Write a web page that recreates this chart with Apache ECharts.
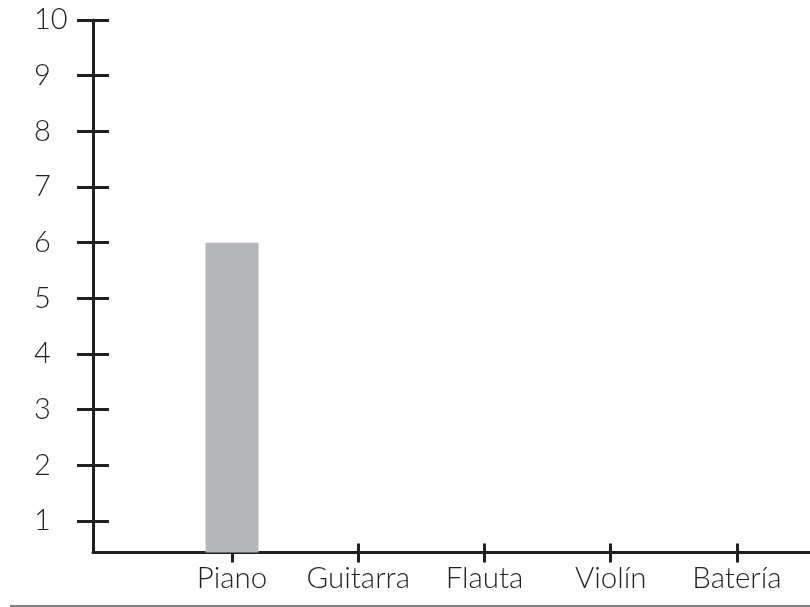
<!DOCTYPE html>
<html>
<head>
<meta charset="utf-8">
<script src="https://cdn.jsdelivr.net/npm/echarts@6/dist/echarts.min.js"></script>
<style>
html,body{margin:0;padding:0;background:#fff;}
#chart{width:810px;height:607px;}
</style>
</head>
<body>
<div id="chart"></div>
<script>
const categories = ['Piano', 'Guitarra', 'Flauta', 'Violín', 'Batería'];
const values = [6, null, null, null, null];
const yTicks = [1, 2, 3, 4, 5, 6, 7, 8, 9, 10];
const yMin = 0.434;
const yMax = 10;

const ink = '#231f20';
const font = 'Lato';
const chart = echarts.init(document.getElementById('chart'));

const gridTop = 20, gridBottom = 54.5;

chart.setOption({
  animation: false,
  backgroundColor: '#fff',
  grid: [
    { left: 93, right: 0, top: gridTop, bottom: gridBottom },
    { left: 168.9, right: 9.9, top: gridTop, bottom: gridBottom },
    { left: 168.9, right: 9.9, top: gridTop, bottom: gridBottom + 9 }
  ],
  xAxis: [
    { gridIndex: 0, type: 'value', min: 0, max: 1, position: 'bottom',
      axisLine: { show: true, onZero: false, lineStyle: { color: ink, width: 3 } },
      axisTick: { show: false }, axisLabel: { show: false }, splitLine: { show: false } },
    { gridIndex: 1, type: 'category', data: categories, boundaryGap: true, position: 'bottom',
      axisLine: { show: false, onZero: false }, axisTick: { show: false }, axisLabel: { show: false },
      splitLine: { show: false } },
    { gridIndex: 2, type: 'category', data: categories, boundaryGap: true, position: 'bottom',
      axisLine: { show: false, onZero: false },
      axisTick: { show: true, alignWithLabel: true, interval: 0, length: 19, lineStyle: { color: ink, width: 3 } },
      axisLabel: { show: true, interval: 0, margin: 20, color: ink, fontFamily: font, fontWeight: 300, fontSize: 29.5 },
      splitLine: { show: false } }
  ],
  yAxis: [
    { gridIndex: 0, type: 'value', min: yMin, max: yMax, position: 'left',
      axisLine: { show: true, onZero: false, lineStyle: { color: ink, width: 3 } },
      axisTick: { show: true, length: 16, customValues: yTicks, lineStyle: { color: ink, width: 3 } },
      axisLabel: { show: true, customValues: yTicks, align: 'left', margin: 59, color: ink, fontFamily: font, fontWeight: 300, fontSize: 29 },
      splitLine: { show: false } },
    { gridIndex: 0, type: 'value', min: yMin, max: yMax, position: 'left', offset: 0,
      axisLine: { show: false, onZero: false },
      axisTick: { show: true, inside: true, length: 16, customValues: yTicks, lineStyle: { color: ink, width: 3 } },
      axisLabel: { show: false }, splitLine: { show: false } },
    { gridIndex: 1, type: 'value', min: yMin, max: yMax, show: false, splitLine: { show: false } },
    { gridIndex: 2, type: 'value', min: 0, max: 1, show: false, splitLine: { show: false } }
  ],
  series: [
    { type: 'bar', xAxisIndex: 1, yAxisIndex: 2, data: values, barWidth: 53,
      itemStyle: { color: '#b5b6b9' }, z: 1 }
  ],
  graphic: [
    { type: 'line', shape: { x1: 10, y1: 606, x2: 810, y2: 606 }, style: { stroke: '#555', lineWidth: 1.5 }, silent: true }
  ]
});
</script>
</body>
</html>
